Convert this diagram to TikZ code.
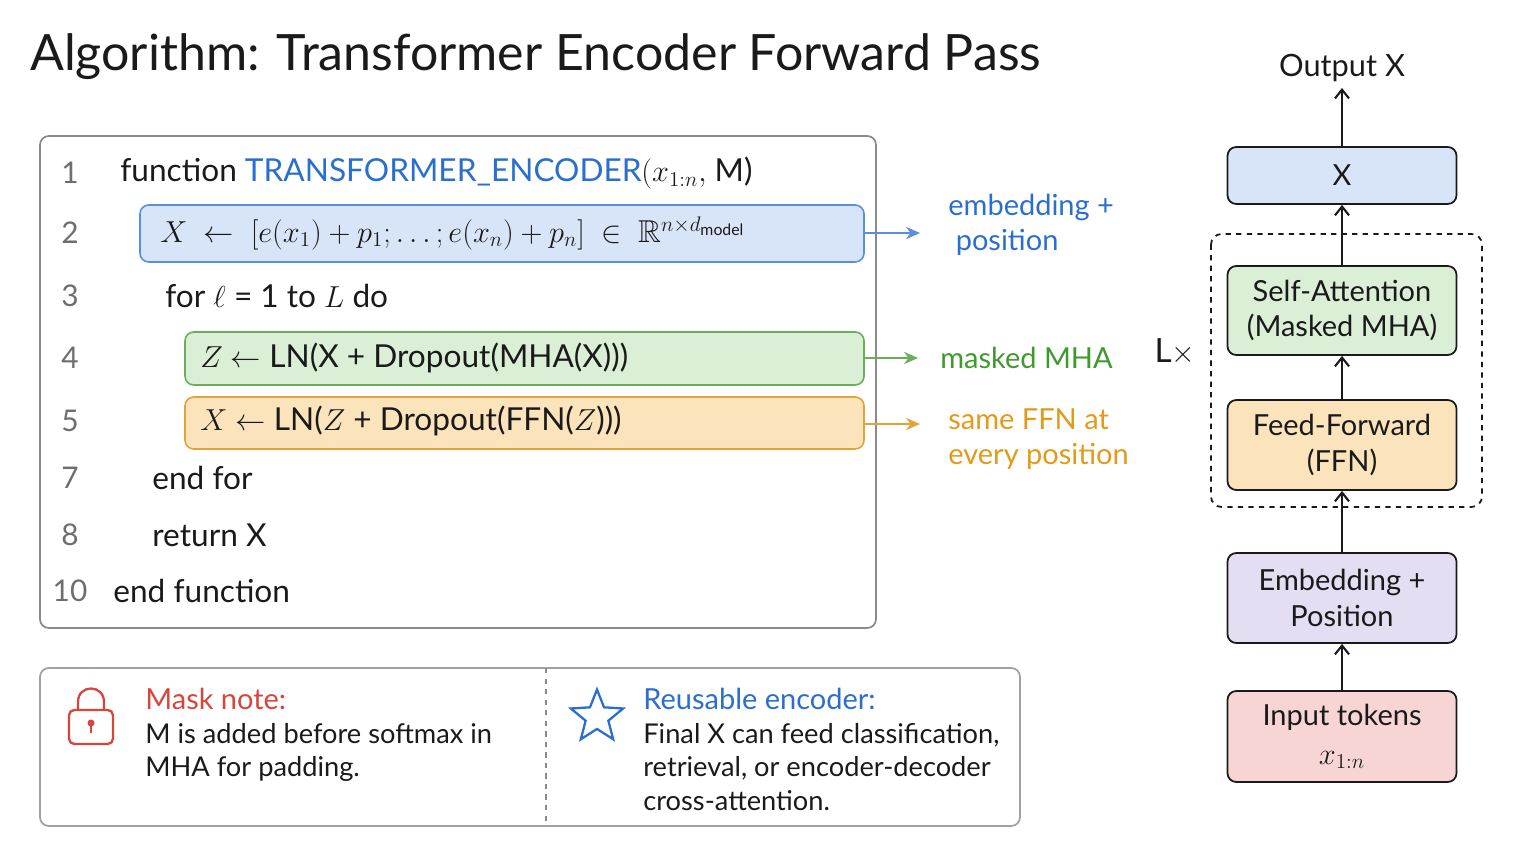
\documentclass[tikz,border=0pt]{standalone}
\usepackage{fontspec}
\setmainfont{Lato}
\usepackage{amsmath,amssymb}
\usetikzlibrary{arrows.meta,shapes.geometric}
\definecolor{bF}{HTML}{D8E5F8}\definecolor{bS}{HTML}{5B8FD9}\definecolor{bT}{HTML}{2A6FD0}
\definecolor{gF}{HTML}{DAEFD5}\definecolor{gS}{HTML}{6AAD5A}\definecolor{gT}{HTML}{3F9A2E}
\definecolor{oF}{HTML}{FBE3BC}\definecolor{oS}{HTML}{E0A43A}\definecolor{oT}{HTML}{E39A1A}
\definecolor{pF}{HTML}{E5DEF3}\definecolor{rF}{HTML}{F7D5D5}\definecolor{rT}{HTML}{D9443C}
\definecolor{ink}{HTML}{1A1A1A}\definecolor{gr}{HTML}{8A8A8A}
\begin{document}
\begin{tikzpicture}[x=0.02cm,y=-0.02cm,
  code/.style={anchor=west,font=\fontsize{18}{22}\selectfont,text=ink,inner sep=0},
  num/.style={anchor=center,font=\fontsize{17}{20}\selectfont,text=gr!80!black,inner sep=0},
  lab/.style={anchor=west,align=left,font=\fontsize{16.5}{20}\selectfont,inner sep=0},
  note/.style={anchor=north west,align=left,font=\fontsize{15.5}{19}\selectfont,text=ink,inner sep=0},
  hl/.style={rounded corners=5pt,line width=0.9pt},
  blk/.style={draw=ink,line width=1pt,rounded corners=5pt,minimum width=229*0.02cm,align=center,font=\fontsize{16.5}{20}\selectfont,text=ink},
  arr/.style={-{Stealth[length=8pt,width=7pt]},line width=1pt},
  ar/.style={-{Straight Barb[length=5pt,width=8pt]},line width=1.2pt,ink}]
\useasboundingbox (0,0) rectangle (1536,864);
\node[anchor=west,inner sep=0,font=\fontsize{28.5}{34}\selectfont,text=ink] (title) at (30,57) {Algorithm: Transformer Encoder Forward Pass};
% code box
\draw[gr,line width=1pt,rounded corners=5pt] (40,136) rectangle (876,628);
\foreach \n/\y in {1/173,2/233,3/296,4/358,5/421,7/478,8/535,10/591} \node[num] (n\n) at (70,\y) {\n};
\node[code] (l1) at (120,173) {function \textcolor{bT}{TRANSFORMER\_ENCODER}$(x_{1:n},$ M)};
\draw[hl,draw=bS,fill=bF] (140,205) rectangle (864,262);
\node[code] (l2) at (160,233) {$X\ \leftarrow\ [e(x_1)+p_1;\ldots;e(x_n)+p_n]\ \in\ \mathbb{R}^{n\times d_{\text{model}}}$};
\node[code] (l3) at (165,296) {for $\ell$ = 1 to $L$ do};
\draw[hl,draw=gS,fill=gF] (185,332) rectangle (864,385);
\node[code] (l4) at (200,358) {$Z$ $\leftarrow$ LN(X + Dropout(MHA(X)))};
\draw[hl,draw=oS,fill=oF] (185,397) rectangle (864,449);
\node[code] (l5) at (200,421) {$X$ $\leftarrow$ LN($Z$ + Dropout(FFN($Z$)))};
\node[code] (l7) at (152,478) {end for};
\node[code] (l8) at (152,535) {return X};
\node[code] (l10) at (113,591) {end function};
\coordinate (a2) at (864,233); \coordinate (a4) at (864,358); \coordinate (a5) at (864,424);
\node[lab,text=bT] (e1) at (948,225) {embedding +\\\ position};
\node[lab,text=gT] (e2) at (940,358) {masked MHA};
\node[lab,text=oT] (e3) at (948,439) {same FFN at\\every position};
\draw[arr,bS] (a2) -- (920,233);
\draw[arr,gS] (a4) -- (918,358);
\draw[arr,oS] (a5) -- (920,424);
% notes box
\draw[gr!80,line width=1pt,rounded corners=5pt] (40,668) rectangle (1020,826);
\draw[gr,dashed,line width=0.8pt] (546,668) -- (546,826);
% lock
\draw[rT,line width=1.3pt,rounded corners=3pt] (69,710) rectangle (113,744);
\draw[rT,line width=1.3pt] (78,710) -- (78,702) .. controls (78,684) and (104,684) .. (104,702) -- (104,710);
\fill[rT] (91,723) circle (3.5);
\draw[rT,line width=1.3pt] (91,723) -- (91,733);
\node[lab,text=rT] (mn) at (145,699) {Mask note:};
\node[note] (mt) at (145,723) {M is added before softmax in\\MHA for padding.};
\node[star,star points=5,star point ratio=2.3,draw=bT,line width=1.3pt,minimum size=55*0.02cm,inner sep=0] (st) at (597,717) {};
\node[lab,text=bT] (rn) at (643,699) {Reusable encoder:};
\node[note] (rt) at (643,723) {Final X can feed classification,\\retrieval, or encoder-decoder\\cross-attention.};
% right stack
\node[font=\fontsize{17.5}{20}\selectfont,text=ink] (out) at (1342,68) {Output X};
\node[blk,fill=bF,minimum height=57*0.02cm] (X) at (1342,175.5) {X};
\draw[dashed,line width=1pt,ink,rounded corners=6pt] (1211,234) rectangle (1482,507);
\node[blk,fill=gF,minimum height=89*0.02cm] (sa) at (1342,310.5) {Self-Attention\\(Masked MHA)};
\node[blk,fill=oF,minimum height=90*0.02cm] (ff) at (1342,445) {Feed-Forward\\(FFN)};
\node[blk,fill=pF,minimum height=90*0.02cm] (em) at (1342,598) {Embedding +\\Position};
\node[blk,fill=rF,minimum height=91*0.02cm] (in) at (1342,736.5) {Input tokens\\[2pt]$x_{1:n}$};
\node[font=\fontsize{19}{22}\selectfont,text=ink] (L) at (1175,352) {L$\times$};
\draw[ar] (X) -- (out);
\draw[ar] (sa) -- (X);
\draw[ar] (ff) -- (sa);
\draw[ar] (em) -- (ff);
\draw[ar] (in) -- (em);
\end{tikzpicture}
\end{document}
